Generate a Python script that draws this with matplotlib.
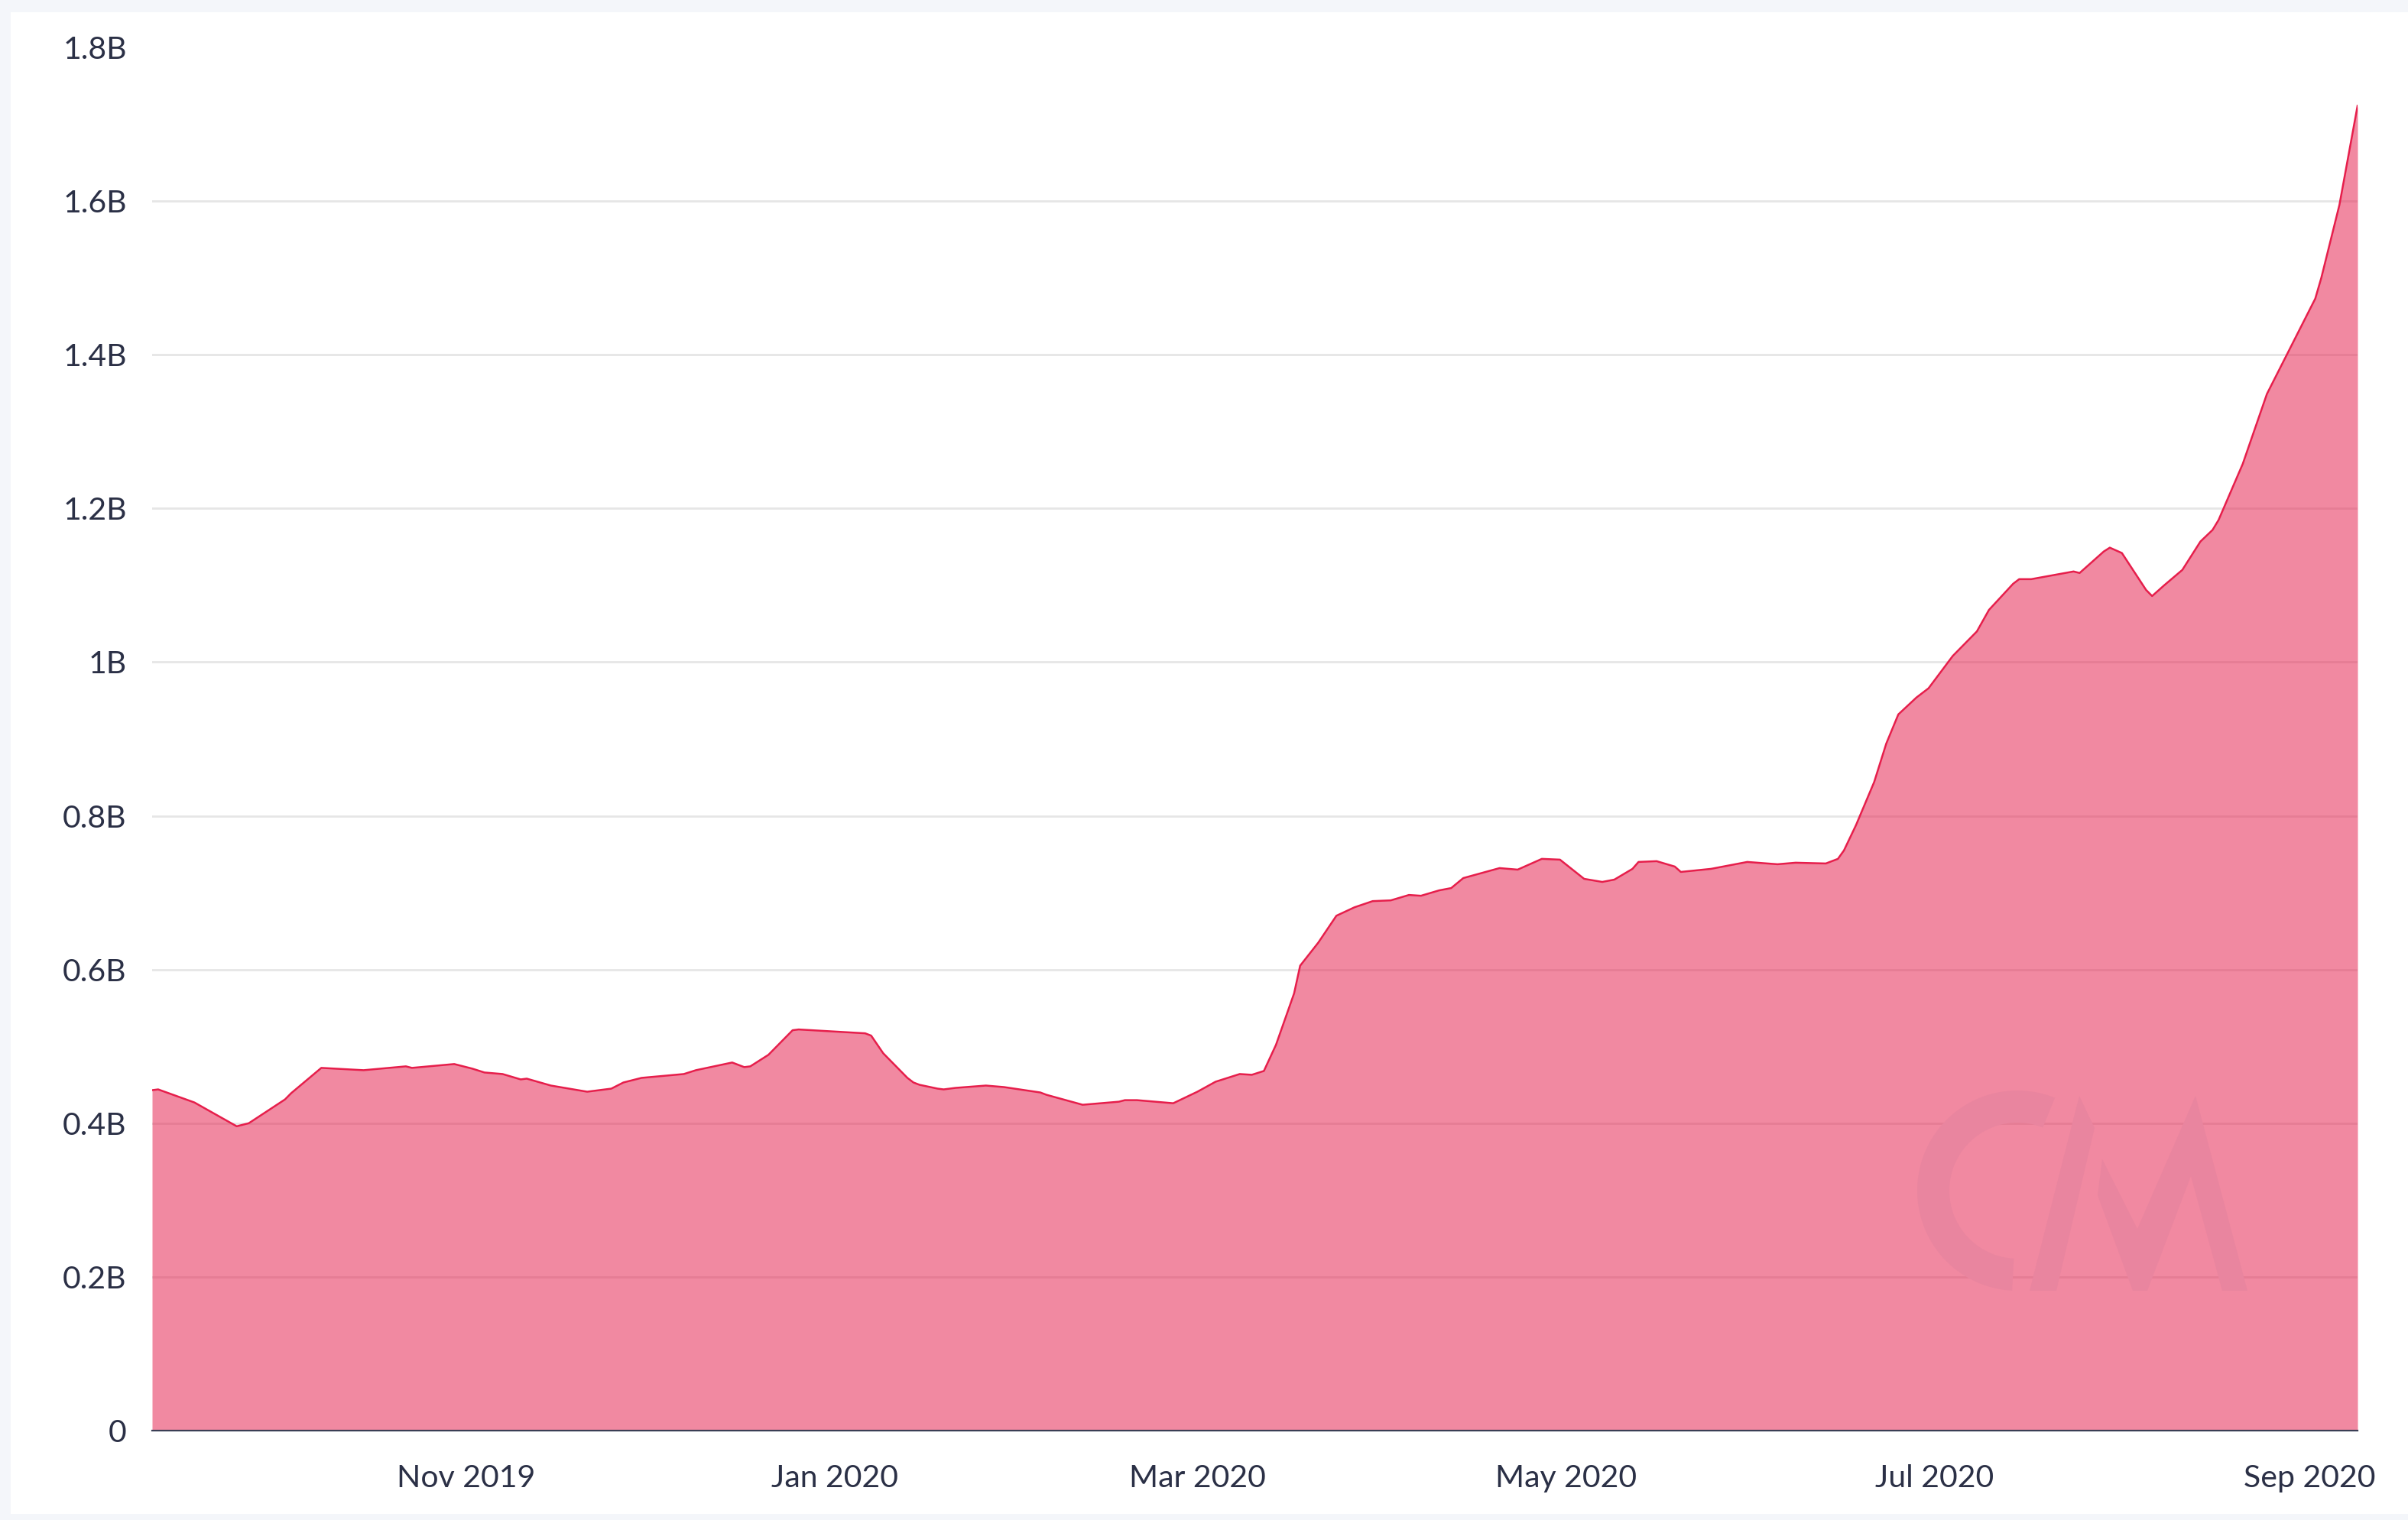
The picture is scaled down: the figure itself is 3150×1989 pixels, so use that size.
import matplotlib

matplotlib.use("Agg")
import matplotlib.dates as mdates
import matplotlib.pyplot as plt
import numpy as np
from matplotlib.patches import Polygon, Rectangle, Wedge
from matplotlib.ticker import FuncFormatter

plt.rcParams["font.family"] = ["Lato", "DejaVu Sans"]

# values, in billions
dates = [
    "2019-09-10", "2019-09-11", "2019-09-17", "2019-09-24", "2019-09-26",
    "2019-10-02", "2019-10-03", "2019-10-08", "2019-10-15", "2019-10-22",
    "2019-10-23", "2019-10-30", "2019-11-02", "2019-11-04", "2019-11-07",
    "2019-11-10", "2019-11-11", "2019-11-15", "2019-11-21", "2019-11-25",
    "2019-11-27", "2019-11-30", "2019-12-07", "2019-12-09", "2019-12-15",
    "2019-12-17", "2019-12-18", "2019-12-21", "2019-12-25", "2019-12-26",
    "2020-01-06", "2020-01-07", "2020-01-09", "2020-01-13", "2020-01-14",
    "2020-01-15", "2020-01-18", "2020-01-19", "2020-01-21", "2020-01-26",
    "2020-01-29", "2020-02-04", "2020-02-05", "2020-02-11", "2020-02-17",
    "2020-02-18", "2020-02-20", "2020-02-26", "2020-03-01", "2020-03-04",
    "2020-03-08", "2020-03-10", "2020-03-12", "2020-03-14", "2020-03-17",
    "2020-03-18", "2020-03-21", "2020-03-24", "2020-03-27", "2020-03-30",
    "2020-04-02", "2020-04-05", "2020-04-07", "2020-04-10", "2020-04-12",
    "2020-04-14", "2020-04-20", "2020-04-23", "2020-04-27", "2020-04-30",
    "2020-05-04", "2020-05-07", "2020-05-09", "2020-05-12", "2020-05-13",
    "2020-05-16", "2020-05-19", "2020-05-20", "2020-05-25", "2020-05-31",
    "2020-06-05", "2020-06-08", "2020-06-13", "2020-06-15", "2020-06-16",
    "2020-06-18", "2020-06-21", "2020-06-23", "2020-06-25", "2020-06-28",
    "2020-06-30", "2020-07-04", "2020-07-08", "2020-07-10", "2020-07-14",
    "2020-07-15", "2020-07-17", "2020-07-24", "2020-07-25", "2020-07-27",
    "2020-07-29", "2020-07-30", "2020-08-01", "2020-08-02", "2020-08-05",
    "2020-08-06", "2020-08-08", "2020-08-11", "2020-08-14", "2020-08-16",
    "2020-08-17", "2020-08-21", "2020-08-25", "2020-09-02", "2020-09-03",
    "2020-09-06", "2020-09-09",
]
values_b = [
    0.443, 0.444, 0.427, 0.396, 0.400,
    0.431, 0.439, 0.472, 0.469, 0.474,
    0.472, 0.477, 0.471, 0.466, 0.464,
    0.457, 0.458, 0.449, 0.441, 0.445,
    0.453, 0.459, 0.464, 0.469, 0.479,
    0.473, 0.474, 0.489, 0.521, 0.522,
    0.517, 0.514, 0.491, 0.459, 0.453,
    0.450, 0.445, 0.444, 0.446, 0.449,
    0.447, 0.440, 0.437, 0.424, 0.428,
    0.430, 0.430, 0.426, 0.441, 0.454,
    0.464, 0.463, 0.468, 0.502, 0.569,
    0.605, 0.635, 0.670, 0.681, 0.689,
    0.690, 0.697, 0.696, 0.703, 0.706,
    0.719, 0.732, 0.730, 0.744, 0.743,
    0.718, 0.714, 0.717, 0.731, 0.740,
    0.741, 0.734, 0.727, 0.731, 0.740,
    0.737, 0.739, 0.738, 0.744, 0.755,
    0.788, 0.844, 0.894, 0.932, 0.954,
    0.966, 1.008, 1.040, 1.068, 1.102,
    1.108, 1.108, 1.118, 1.116, 1.130,
    1.144, 1.149, 1.142, 1.130, 1.094,
    1.086, 1.100, 1.120, 1.157, 1.172,
    1.185, 1.258, 1.349, 1.473, 1.500,
    1.595, 1.724,
]
y_ticks_b = [0, 0.2, 0.4, 0.6, 0.8, 1.0, 1.2, 1.4, 1.6, 1.8]

x = np.array(dates, dtype="datetime64[D]")
y = np.array(values_b) * 1e9

LINE = "#e61e4b"
TEXT = "#2b3046"
W, H = 3150, 1989

fig = plt.figure(figsize=(W / 100, H / 100), dpi=100, facecolor="#f4f6fa")
# white card behind the chart
fig.patches.append(Rectangle((14 / W, 1 - 1981 / H), 1, (1981 - 16) / H,
                             transform=fig.transFigure, facecolor="white",
                             edgecolor="none", zorder=-5))

ax = fig.add_axes([199 / W, 1 - 1872 / H, (3084 - 199) / W, (1872 - 62) / H])
ax.set_facecolor("none")
ax.fill_between(x, y, 0, color=LINE, alpha=0.52, linewidth=0, zorder=2)
ax.plot(x, y, color=LINE, linewidth=1.8, zorder=3)

ax.set_xlim(x[0], x[-1])
ax.set_ylim(0, 1.8e9)
ax.set_yticks([v * 1e9 for v in y_ticks_b])
ax.yaxis.set_major_formatter(
    FuncFormatter(lambda v, _: "0" if v == 0 else f"{v / 1e9:g}B"))
ax.xaxis.set_major_locator(mdates.MonthLocator(bymonth=[1, 3, 5, 7, 9, 11]))
ax.xaxis.set_major_formatter(mdates.DateFormatter("%b %Y"))

ax.grid(axis="y", color="#e6e6e6", linewidth=2, zorder=1)
ax.set_axisbelow(True)
for line in ax.yaxis.get_gridlines()[-1:]:
    line.set_visible(False)

for side in ["top", "right", "left"]:
    ax.spines[side].set_visible(False)
ax.spines["bottom"].set_color("#3a3f55")
ax.spines["bottom"].set_linewidth(1.6)
ax.spines["bottom"].set_zorder(4)

ax.tick_params(axis="y", length=0, pad=24, labelsize=29.5, labelcolor=TEXT)
ax.tick_params(axis="x", length=0, pad=32, labelsize=29.5, labelcolor=TEXT)

# faint "CM" watermark, placed in figure pixels
wm = fig.add_axes([0, 0, 1, 1], zorder=5)
wm.set_xlim(0, W)
wm.set_ylim(H, 0)
wm.axis("off")
wm_color = "#e9859f"
wm.add_patch(Wedge((2639, 1558), 131, 93, 292, width=42,
                   facecolor=wm_color, edgecolor="none"))
wm.add_patch(Polygon([(2655, 1689), (2690, 1689), (2740, 1476), (2720, 1434)],
                     facecolor=wm_color, edgecolor="none"))
wm.add_patch(Polygon([(2750, 1517), (2796, 1608), (2872, 1434), (2940, 1689),
                      (2907, 1689), (2866, 1539), (2809, 1689), (2790, 1689),
                      (2744, 1564)],
                     facecolor=wm_color, edgecolor="none"))

fig.savefig("out.png", dpi=100, facecolor=fig.get_facecolor())
